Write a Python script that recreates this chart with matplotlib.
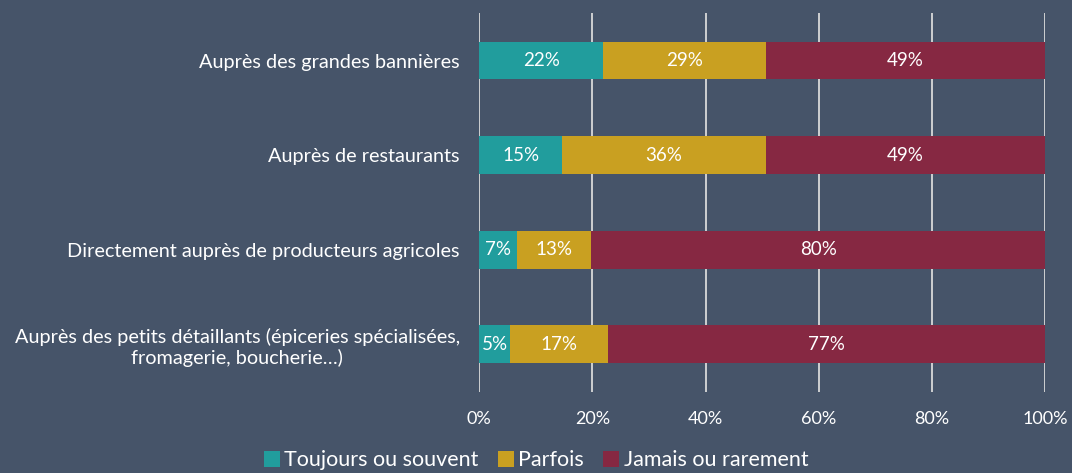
import numpy as np
import matplotlib.pyplot as plt

categories = [
    "Auprès des grandes bannières",
    "Auprès de restaurants",
    "Directement auprès de producteurs agricoles",
    "Auprès des petits détaillants (épiceries spécialisées,\nfromagerie, boucherie…)",
]
series_names = ["Toujours ou souvent", "Parfois", "Jamais ou rarement"]
toujours = [21.9, 14.6, 6.7, 5.4]
parfois = [28.7, 36.0, 13.1, 17.4]
jamais = [49.4, 49.4, 80.2, 77.2]
colors = ["#219d9d", "#c9a021", "#862842"]

bg = "#465469"
plt.rcParams['font.family'] = ['Lato', 'DejaVu Sans']

fig = plt.figure(figsize=(10.72, 4.73), dpi=100, facecolor=bg)
ax = fig.add_axes([0.447, 0.172, 0.528, 0.8])
ax.set_facecolor(bg)

y = np.arange(len(categories))
left = np.zeros(len(categories))
for name, vals, c in zip(series_names, [toujours, parfois, jamais], colors):
    vals = np.array(vals)
    ax.barh(y, vals, left=left, height=0.4, color=c, label=name, zorder=3)
    for yi, l, v in zip(y, left, vals):
        ax.text(l + v / 2, yi, f"{round(v):d}%", ha="center", va="center",
                color="white", fontsize=13.5, zorder=4)
    left += vals

ax.set_xlim(0, 100)
ax.set_ylim(3.5, -0.5)
ax.set_xticks(np.arange(0, 101, 20))
ax.set_xticklabels([f"{t}%" for t in range(0, 101, 20)], color="white", fontsize=13)
ax.set_yticks(y)
ax.set_yticklabels(categories, color="white", fontsize=14.3, ha="right",
                   multialignment="center")
ax.tick_params(axis="y", length=0, pad=14)
ax.tick_params(axis="x", length=0, pad=14)
ax.xaxis.grid(True, color="#d9d9d9", linewidth=1.3, zorder=0)
for s in ax.spines.values():
    s.set_visible(False)

leg = fig.legend(loc="lower center", bbox_to_anchor=(0.5, -0.035), ncol=3, frameon=False,
                 fontsize=15.5, handlelength=0.75, handleheight=0.75, handletextpad=0.2,
                 columnspacing=0.9)
for t in leg.get_texts():
    t.set_color("white")

fig.savefig("out.png", facecolor=bg)
